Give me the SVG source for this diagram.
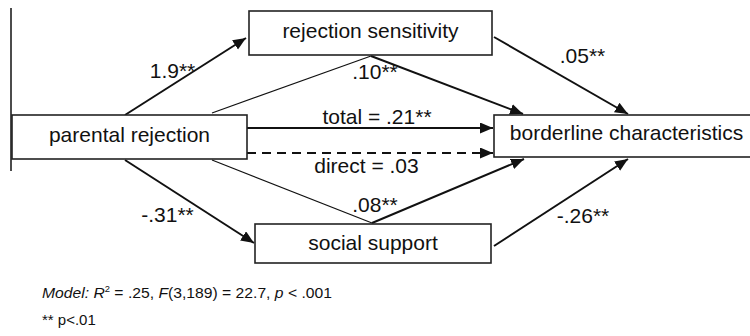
<svg xmlns="http://www.w3.org/2000/svg" width="750" height="336" viewBox="0 0 750 336">
<defs>
<marker id="ah" markerUnits="userSpaceOnUse" markerWidth="14" markerHeight="12" refX="13" refY="5.5" orient="auto">
<path d="M0,0 L13,5.5 L0,11 z" fill="#111"/>
</marker>
<style>
.box{fill:#fff;stroke:#222;stroke-width:1.6}
.nt{font-family:"Liberation Sans",Arial,sans-serif;font-size:21px;fill:#111;text-anchor:middle}
.lb{font-family:"Liberation Sans",Arial,sans-serif;font-size:21px;fill:#111;text-anchor:middle}
.ft{font-family:"Liberation Sans",Arial,sans-serif;font-size:15px;fill:#111}
.ar{stroke:#111;stroke-width:2;fill:none;marker-end:url(#ah)}
.th{stroke:#111;stroke-width:1.2;fill:none}
</style>
</defs>
<rect width="750" height="336" fill="#fff"/>
<line x1="11" y1="8" x2="11" y2="171" stroke="#111" stroke-width="1.5"/>
<g id="connectors">
<line class="ar" x1="125" y1="115" x2="246" y2="38"/>
<polyline class="th" points="212,113 371,56"/>
<line class="ar" x1="371" y1="56" x2="523" y2="114"/>
<line class="ar" x1="494" y1="37" x2="628" y2="114"/>
<line class="ar" x1="247" y1="128" x2="493" y2="128"/>
<line class="ar" x1="247" y1="153" x2="493" y2="153" stroke-dasharray="9,6"/>
<polyline class="th" points="212,160 372,223"/>
<line class="ar" x1="372" y1="223" x2="524" y2="159"/>
<line class="ar" x1="125" y1="160" x2="254" y2="243"/>
<line class="ar" x1="494" y1="246" x2="628" y2="159"/>
<text class="lb" x="172.5" y="78">1.9**</text>
<text class="lb" x="375" y="79">.10**</text>
<text class="lb" x="582.5" y="63">.05**</text>
<text class="lb" x="377" y="124">total = .21**</text>
<text class="lb" x="366.5" y="173">direct = .03</text>
<text class="lb" x="375" y="212">.08**</text>
<text class="lb" x="167.5" y="222">-.31**</text>
<text class="lb" x="583" y="223">-.26**</text>
</g>
<g id="parental">
<rect class="box" x="12" y="115" width="235" height="44"/>
<text class="nt" x="129.5" y="142">parental rejection</text>
</g>
<g id="rs">
<rect class="box" x="249" y="11" width="243" height="44"/>
<text class="nt" x="370.5" y="38">rejection sensitivity</text>
</g>
<g id="borderline">
<rect class="box" x="494" y="115" width="265" height="42"/>
<text class="nt" x="626.5" y="140">borderline characteristics</text>
</g>
<g id="social">
<rect class="box" x="255" y="224" width="236" height="39"/>
<text class="nt" x="373" y="250">social support</text>
</g>
<g id="notes">
<text class="ft" x="42" y="298" textLength="290" lengthAdjust="spacingAndGlyphs"><tspan font-style="italic">Model: R</tspan><tspan font-size="9" dy="-6">2</tspan><tspan dy="6"> = .25, </tspan><tspan font-style="italic">F</tspan>(3,189) = 22.7, <tspan font-style="italic">p</tspan> &lt;  .001</text>
<text class="ft" x="42" y="325">** p&lt;.01</text>
</g>
</svg>
